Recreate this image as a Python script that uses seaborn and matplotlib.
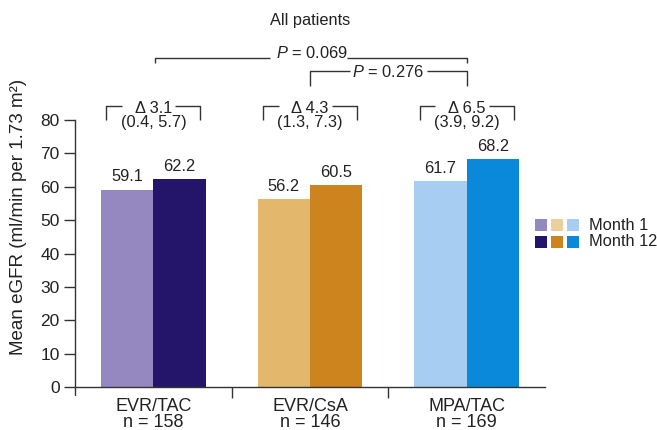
import matplotlib
matplotlib.use("Agg")
import matplotlib.pyplot as plt
import seaborn as sns
import pandas as pd
from matplotlib.patches import Rectangle

regimens = ["EVR/TAC", "EVR/CsA", "MPA/TAC"]
n_patients = [158, 146, 169]
months = ["Month 1", "Month 12"]
month1 = [59.1, 56.2, 61.7]
month12 = [62.2, 60.5, 68.2]
deltas = ["3.1", "4.3", "6.5"]
cis = ["(0.4, 5.7)", "(1.3, 7.3)", "(3.9, 9.2)"]
p_all = "0.069"
p_pair = "0.276"
light_colors = ["#9588c1", "#e3b86c", "#a8cdf2"]
dark_colors = ["#24156a", "#cd841f", "#0a88d9"]
legend_light = ["#9588c1", "#ecd09c", "#a8cdf2"]

df = pd.DataFrame({
    "regimen": regimens * 2,
    "month": [months[0]] * 3 + [months[1]] * 3,
    "value": month1 + month12,
})

sns.set_style("white")
plt.rcParams["font.family"] = ["Liberation Sans", "DejaVu Sans"]
plt.rcParams["mathtext.fontset"] = "custom"
plt.rcParams["mathtext.it"] = "Liberation Sans:italic"
plt.rcParams["mathtext.rm"] = "Liberation Sans"
TXT = "#222222"
LC = "#333333"
FS = 11.8

fig = plt.figure(figsize=(6.57, 4.30), dpi=100)
ax = fig.add_axes([75 / 657, 1 - 387 / 430, 470 / 657, 267 / 430])

sns.barplot(data=df, x="regimen", y="value", hue="month", order=regimens,
            hue_order=months, width=0.67, ax=ax, legend=False, saturation=1)

for ci, cont in enumerate(ax.containers):
    cols = light_colors if ci == 0 else dark_colors
    for j, bar in enumerate(cont):
        bar.set_facecolor(cols[j])
        bar.set_edgecolor("none")
    ax.bar_label(cont, fmt="%.1f", padding=4, fontsize=FS, color=TXT)

ax.set_xlim(-0.5, 2.5)
ax.set_ylim(0, 80)
ax.set_yticks(range(0, 81, 10))
ax.set_xticks(range(3))
ax.set_xticklabels([f"{r}\nn = {n}" for r, n in zip(regimens, n_patients)],
                   linespacing=0.95)
ax.set_xticks([0.5, 1.5], minor=True)
ax.tick_params(axis="x", which="major", length=0, pad=8, labelsize=13, labelcolor=TXT)
ax.tick_params(axis="x", which="minor", length=8, width=1, color=LC, direction="out", bottom=True)
ax.tick_params(axis="y", length=8, width=1, color=LC, labelsize=12.5, labelcolor=TXT, left=True, pad=3)
ax.set_xlabel("")
ax.set_ylabel("Mean eGFR (ml/min per 1.73 m²)", fontsize=13.5, color=TXT)
ax.yaxis.set_label_coords(-0.102, 0.636)

for s in ["top", "right"]:
    ax.spines[s].set_visible(False)
for s in ["left", "bottom"]:
    ax.spines[s].set_color(LC)
    ax.spines[s].set_linewidth(1)
ax.plot([0, 0], [-0.03, 0], transform=ax.transAxes, color=LC, lw=1, clip_on=False)

def line(xs, ys):
    ax.plot(xs, ys, color=LC, lw=1, clip_on=False, solid_capstyle="butt")

# delta brackets
for i in range(3):
    line([i - 0.3, i - 0.3, i - 0.2], [80.0, 84.2, 84.2])
    line([i + 0.14, i + 0.3, i + 0.3], [84.2, 84.2, 80.0])
    ax.text(i, 82.2, f"Δ {deltas[i]}", ha="center", va="baseline", fontsize=FS, color=TXT, clip_on=False)
    ax.text(i, 78.0, cis[i], ha="center", va="baseline", fontsize=FS, color=TXT, clip_on=False)

# pairwise bracket
line([1.0, 1.0, 1.255], [90.2, 94.7, 94.7])
line([1.746, 2.0, 2.0], [94.7, 94.7, 90.2])
ax.text(1.496, 92.9, f"$P$ = {p_pair}", ha="center", va="baseline", fontsize=FS, color=TXT)

# overall bracket
line([0.01, 0.01, 0.745], [97.1, 98.6, 98.6])
line([1.236, 2.0, 2.0], [98.6, 98.6, 97.1])
ax.text(1.01, 98.6, f"$P$ = {p_all}", ha="center", va="baseline", fontsize=FS, color=TXT)

ax.text(1.0, 108.5, "All patients", ha="center", va="baseline", fontsize=FS, color=TXT)

# legend
for r, (cols, lab) in enumerate(zip([legend_light, dark_colors], months)):
    yc = [225, 242][r]
    for k, c in enumerate(cols):
        fig.patches.append(Rectangle(((535 + 16 * k) / 657, 1 - (yc + 6) / 430), 12 / 657, 12 / 430,
                                     transform=fig.transFigure, facecolor=c, edgecolor="none"))
    fig.text(589 / 657, 1 - yc / 430, lab, ha="left", va="center", fontsize=FS, color=TXT)

fig.savefig("out.png", dpi=100)
